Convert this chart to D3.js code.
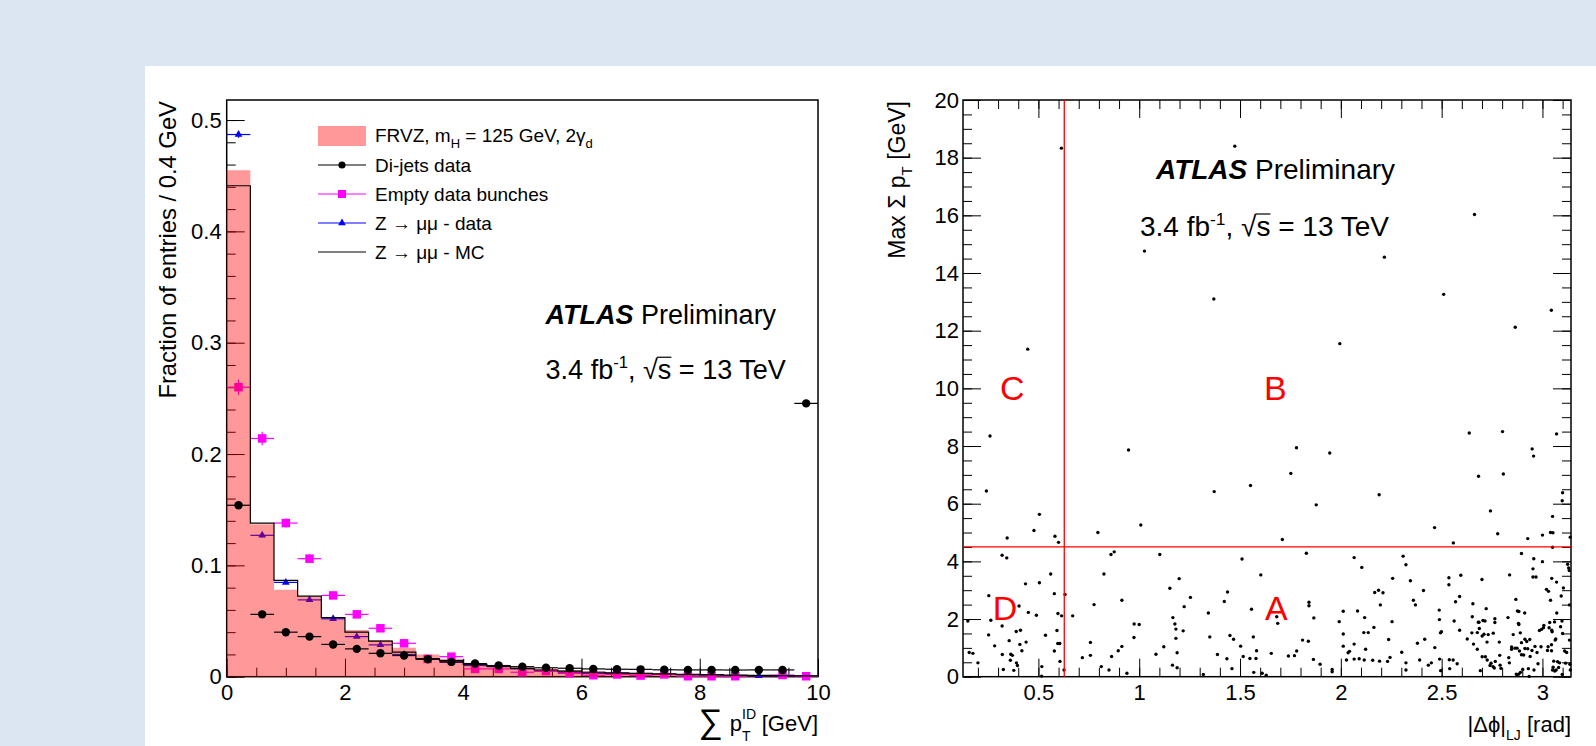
<!DOCTYPE html>
<html>
<head>
<meta charset="utf-8">
<script src="https://cdn.jsdelivr.net/npm/d3@7"></script>
<style>
  body { margin: 0; background: #dce6f2; }
  svg { display: block; font-family: "Liberation Sans", Arial, Helvetica, sans-serif; }
</style>
</head>
<body>
<svg id="draw"></svg>
<script>
// sum pT^ID histogram, 0.4 GeV bins (last bin carries the overflow)
const ptBins = [0.2, 0.6, 1.0, 1.4, 1.8, 2.2, 2.6, 3.0, 3.4, 3.8, 4.2, 4.6, 5.0,
                5.4, 5.8, 6.2, 6.6, 7.0, 7.4, 7.8, 8.2, 8.6, 9.0, 9.4, 9.8];
const binWidth = 0.4;

const frvz = [0.455, 0.137, 0.078, 0.072, 0.052, 0.042, 0.033, 0.026, 0.020, 0.016,
              0.0115, 0.010, 0.0085, 0.007, 0.006, 0.005, 0.004, 0.0035, 0.003, 0.0025,
              0.002, 0.0018, 0.0015, 0.0012, 0.001];
const zmumuMC = [0.441, 0.138, 0.0865, 0.0723, 0.053, 0.040, 0.032, 0.022, 0.016, 0.0145,
                 0.011, 0.0093, 0.0075, 0.006, 0.005, 0.004, 0.0035, 0.003, 0.0025, 0.002,
                 0.0018, 0.0015, 0.0012, 0.001, 0.0008];
const zmumuData = [0.487, 0.127, 0.0847, 0.069, 0.052, 0.036, 0.0286, 0.020, 0.016, 0.013,
                   0.010, 0.009, 0.007, 0.005, 0.004, 0.003, 0.003, 0.0025, 0.002, 0.0015,
                   0.0012, 0.001, 0.0008, 0.0006, 0.0005];
const zmumuErr = [0.003, 0.002, 0.0015, 0.0015, 0.001, 0.001, 0.001, 0.001, 0.001, 0.001,
                  0.0005, 0.0005, 0.0005, 0.0005, 0.0005, 0.0005, 0.0005, 0.0005, 0.0005, 0.0005,
                  0.0005, 0.0005, 0.0005, 0.0005, 0.0005];
const emptyBunches = [0.26, 0.214, 0.138, 0.106, 0.073, 0.056, 0.0435, 0.030, 0.016, 0.018,
                      0.007, 0.007, 0.004, 0.005, 0.003, 0.0013, 0.002, 0.001, 0.002, 0.0004,
                      0.0004, 0.0004, null, 0.0015, 0.0004];
const emptyErr = [0.007, 0.006, 0.004, 0.004, 0.003, 0.003, 0.002, 0.002, 0.0015, 0.0015,
                  0.001, 0.001, 0.001, 0.001, 0.001, 0.0005, 0.0005, 0.0005, 0.0005, 0.0005,
                  0.0005, 0.0005, 0, 0.0005, 0.0005];
const dijets = [0.154, 0.056, 0.040, 0.036, 0.029, 0.025, 0.021, 0.019, 0.0157, 0.0133,
                0.0118, 0.0100, 0.0090, 0.0080, 0.0076, 0.0070, 0.0067, 0.0066, 0.0062, 0.0061,
                0.0061, 0.0060, 0.0061, 0.0061, 0.2455];
const dijetsErr = [0.002, 0.001, 0.001, 0.001, 0.001, 0.001, 0.001, 0.001, 0.0008, 0.0008,
                   0.0005, 0.0005, 0.0005, 0.0005, 0.0005, 0.0005, 0.0005, 0.0005, 0.0005, 0.0005,
                   0.0005, 0.0005, 0.0005, 0.0005, 0.002];

const leftXTicks = [0, 2, 4, 6, 8, 10];
const leftYTicks = [0, 0.1, 0.2, 0.3, 0.4, 0.5];
const rightXTicks = [0.5, 1, 1.5, 2, 2.5, 3];
const rightYTicks = [0, 2, 4, 6, 8, 10, 12, 14, 16, 18, 20];

// ABCD cuts
const dphiCut = Math.PI / 5;
const sumPtCut = 4.5;

// events: [|dphi| (rad), max sum pT (GeV)]
const events = [
  [0.614,18.33],[1.474,18.4],[2.663,16.03],[1.026,14.76],[2.216,14.55],[1.37,13.1],[2.51,13.26],
  [3.044,12.71],[2.865,12.12],[0.447,11.36],[1.995,11.55],[0.26,8.35],[0.947,7.86],[1.78,7.94],
  [1.945,7.76],[2.637,8.45],[2.802,8.5],[3.07,8.42],[2.949,7.9],[2.956,7.65],[1.752,7.05],
  [2.683,6.95],[2.806,7.03],[0.242,6.44],[1.552,6.63],[1.372,6.42],[2.19,6.31],[1.878,5.96],
  [3.1,6.38],[3.098,6.1],[2.742,5.75],[0.505,5.63],[1.008,5.26],[3.05,5.56],[2.465,5.17],
  [0.478,5.07],[0.795,5.0],[2.778,4.96],[3.04,5.0],[3.052,4.99],[3.0,4.91],[0.345,4.81],
  [0.582,4.87],[0.6,4.66],[1.71,4.76],[2.558,4.64],[2.927,4.79],[3.138,4.84],[3.05,4.49],
  [0.32,4.21],[0.343,4.12],[0.86,4.24],[0.876,4.33],[1.102,4.24],[1.51,4.08],[0.436,3.22],
  [0.505,3.26],[0.561,3.56],[0.579,2.88],[0.632,2.85],[0.67,2.11],[0.825,3.56],[0.776,2.5],
  [0.914,2.65],[1.152,3.07],[1.198,3.4],[1.254,2.75],[1.223,2.43],[1.167,2.05],[1.177,1.83],
  [1.182,1.65],[1.182,1.33],[1.188,0.83],[1.218,1.59],[0.254,2.81],[0.264,1.96],[0.15,1.93],
  [0.157,0.84],[0.175,0.81],[0.2,0.48],[0.253,1.45],[0.283,1.07],[0.32,1.76],[0.321,0.77],
  [0.326,0.25],[0.355,1.25],[0.363,0.78],[0.371,0.74],[0.361,0.57],[0.378,0.22],[0.39,1.57],
  [0.391,0.48],[0.396,0.39],[0.404,2.45],[0.408,1.12],[0.411,1.61],[0.418,0.9],[0.439,1.2],
  [0.45,2.23],[0.49,2.13],[0.517,0.35],[0.516,0.02],[0.535,1.44],[0.579,0.89],[0.592,1.6],
  [0.597,2.19],[0.596,1.15],[0.606,1.15],[0.607,0.53],[0.615,2.11],[0.627,0.23],[0.718,0.66],
  [0.758,1.19],[0.758,0.74],[0.812,0.35],[0.85,0.23],[0.863,0.7],[0.896,0.9],[0.914,1.05],
  [0.939,0.12],[0.975,1.83],[1.0,1.81],[0.974,1.36],[1.083,0.78],[1.122,1.04],[1.165,0.4],
  [1.188,0.31],[1.318,0.08],[1.343,2.21],[1.35,1.38],[1.388,0.77],[1.422,2.61],[1.438,2.94],
  [1.435,0.62],[1.45,1.43],[1.46,0.28],[1.468,1.3],[1.503,1.06],[1.516,0.7],[1.549,0.63],
  [1.557,2.34],[1.566,1.38],[1.579,0.63],[1.582,0.9],[1.568,0.15],[1.603,3.53],[1.61,0.12],
  [1.63,0.05],[1.829,4.28],[1.655,0.81],[1.682,2.08],[1.687,1.85],[1.74,0.72],[1.77,0.73],
  [1.781,0.89],[1.81,1.27],[1.839,1.23],[1.842,2.46],[1.842,2.58],[1.866,2.04],[1.864,0.6],
  [1.897,0.43],[1.957,0.25],[1.957,0.17],[1.992,1.91],[2.012,1.48],[2.012,2.27],[2.012,1.06],
  [2.028,0.58],[2.036,0.83],[2.043,0.88],[2.066,4.13],[2.066,1.13],[2.066,0.61],[2.083,2.28],
  [2.091,0.62],[2.104,3.79],[2.114,1.53],[2.118,2.05],[2.123,0.95],[2.136,1.53],[2.116,0.58],
  [2.164,1.71],[2.158,0.57],[2.168,2.92],[2.187,3.0],[2.209,2.91],[2.196,2.49],[2.192,0.54],
  [2.232,0.53],[2.237,1.29],[2.244,0.67],[2.254,1.91],[2.257,3.41],[2.302,0.85],[2.309,4.18],
  [2.323,3.88],[2.323,0.48],[2.323,0.23],[2.345,3.33],[2.36,2.65],[2.37,2.49],[2.38,1.16],
  [2.391,0.58],[2.41,2.99],[2.416,1.3],[2.434,0.4],[2.449,0.48],[2.466,1.01],[2.488,2.31],
  [2.489,1.98],[2.494,1.52],[2.499,1.56],[2.49,0.61],[2.495,0.21],[2.536,3.43],[2.536,3.19],
  [2.538,0.59],[2.54,0.28],[2.557,0.58],[2.562,1.93],[2.569,2.6],[2.577,0.45],[2.589,2.78],
  [2.589,1.61],[2.595,3.52],[2.627,1.31],[2.652,2.08],[2.65,1.52],[2.655,2.53],[2.658,1.13],
  [2.677,0.95],[2.677,1.53],[2.682,1.89],[2.685,1.89],[2.687,1.67],[2.692,0.21],[2.7,3.37],
  [2.701,1.41],[2.701,0.69],[2.705,1.95],[2.71,1.47],[2.715,1.93],[2.717,0.69],[2.721,2.36],
  [2.725,1.2],[2.726,0.58],[2.731,1.46],[2.74,0.39],[2.745,0.47],[2.755,0.35],[2.756,1.51],
  [2.761,0.3],[2.764,2.01],[2.764,1.88],[2.766,0.53],[2.786,1.2],[2.788,0.74],[2.79,0.4],
  [2.794,0.29],[2.829,2.05],[2.833,0.66],[2.836,0.48],[2.837,3.53],[2.847,1.03],[2.847,0.95],
  [2.855,1.46],[2.864,0.99],[2.868,2.68],[2.87,0.09],[2.874,0.99],[2.874,0.07],[2.876,2.28],
  [2.881,1.85],[2.883,2.26],[2.883,1.81],[2.883,0.09],[2.886,0.89],[2.89,1.52],[2.891,0.15],
  [2.896,4.27],[2.896,1.18],[2.896,0.76],[2.902,0.25],[2.907,0.75],[2.912,2.21],[2.913,1.3],
  [2.913,0.98],[2.922,1.22],[2.927,0.97],[2.93,0.28],[2.934,0.01],[2.937,1.29],[2.939,0.7],
  [2.948,0.91],[2.953,3.74],[2.953,3.46],[2.957,4.09],[2.958,0.23],[2.963,1.05],[2.968,3.46],
  [2.973,0.84],[2.978,0.45],[2.985,1.6],[2.993,1.04],[2.995,1.64],[3.0,3.99],[3.005,1.7],
  [3.007,1.78],[3.02,3.03],[3.025,0.91],[3.028,1.04],[3.03,2.96],[3.033,1.7],[3.036,1.88],
  [3.04,2.65],[3.045,1.11],[3.045,0.9],[3.046,3.41],[3.046,1.61],[3.048,1.56],[3.05,0.23],
  [3.053,0.33],[3.056,0.54],[3.06,1.9],[3.061,0.2],[3.063,1.27],[3.066,1.31],[3.068,0.23],
  [3.07,3.28],[3.071,2.21],[3.075,0.52],[3.08,0.32],[3.085,0.48],[3.09,1.73],[3.093,2.8],
  [3.097,1.93],[3.098,0.08],[3.1,1.5],[3.104,3.08],[3.11,0.89],[3.115,0.47],[3.12,0.84],
  [3.125,3.9],[3.13,3.77],[3.133,3.68],[3.134,2.49],[3.134,1.27],[3.136,0.43],[3.138,0.23]
];

const width = 1596;
const height = 746;
const tickFont = 22;

var svg = d3.select("#draw")
  .attr("width", width)
  .attr("height", height);

svg.append("rect").attr("width", width).attr("height", height).attr("fill", "#dce6f2");
svg.append("rect").attr("x", 145).attr("y", 66)
  .attr("width", width - 145).attr("height", height - 66).attr("fill", "#fff");

// draws a set of inward ticks with d3 axis, labels optional
function ticks(g, axisFn, scale, values, size, transform, fmt, pad) {
  var ax = axisFn(scale).tickValues(values)
    .tickSizeInner(-size).tickSizeOuter(0).tickPadding(pad || 5)
    .tickFormat(fmt || "");
  var a = g.append("g").attr("transform", transform).call(ax);
  a.select(".domain").remove();
  a.attr("font-family", null).attr("font-size", tickFont);
  a.selectAll("line").attr("stroke", "#000").attr("stroke-width", 1);
  a.selectAll("text").attr("fill", "#000");
  return a;
}

function frame(g, x, y) {
  g.append("rect")
    .attr("x", x.range()[0]).attr("y", y.range()[1])
    .attr("width", x.range()[1] - x.range()[0])
    .attr("height", y.range()[0] - y.range()[1])
    .attr("fill", "none").attr("stroke", "#000").attr("stroke-width", 1.5);
}

function atlasLabel(g, x, y, size) {
  var t = g.append("text").attr("x", x).attr("y", y).attr("font-size", size);
  t.append("tspan").attr("font-weight", "bold").attr("font-style", "italic").text("ATLAS");
  t.append("tspan").text(" Preliminary");

  var l = g.append("text").attr("x", x - (size > 27 ? 16 : 0)).attr("y", y + size * 2.05)
    .attr("font-size", size);
  l.append("tspan").text("3.4 fb");
  l.append("tspan").attr("font-size", size * 0.62).attr("dy", -size * 0.42).text("-1");
  l.append("tspan").attr("dy", size * 0.42).text(", \u221As = 13 TeV");
  // bar over the s of the square root
  var node = l.node();
  var a = node.getEndPositionOfChar(10);
  var b = node.getEndPositionOfChar(11);
  g.append("line")
    .attr("x1", a.x - 1).attr("x2", b.x)
    .attr("y1", a.y - size * 0.8).attr("y2", a.y - size * 0.8)
    .attr("stroke", "#000").attr("stroke-width", 1.2);
}

leftPlot();
rightPlot();

function leftPlot() {
  var g = svg.append("g");
  var x = d3.scaleLinear().domain([0, 10]).range([226.7, 818]);
  var y = d3.scaleLinear().domain([0, 0.518]).range([676.7, 100]);

  ticks(g, d3.axisLeft, y, d3.range(0, 0.519, 0.02), 9, "translate(" + x.range()[0] + ",0)");
  ticks(g, d3.axisLeft, y, leftYTicks, 18, "translate(" + x.range()[0] + ",0)",
    d => d === 0 ? "0" : d.toFixed(1), 5);
  ticks(g, d3.axisBottom, x, d3.range(0, 10.01, 0.5), 9, "translate(0," + y.range()[0] + ")");
  ticks(g, d3.axisBottom, x, leftXTicks, 18, "translate(0," + y.range()[0] + ")",
    d => d, 8);
  frame(g, x, y);

  function points(vals, errs, color, shape, size) {
    var pts = ptBins.map((c, i) => ({ c: c, v: vals[i], e: errs[i] }))
      .filter(d => d.v != null);
    var p = g.append("g");
    p.selectAll(null).data(pts).enter().append("line")
      .attr("x1", d => x(d.c - binWidth / 2)).attr("x2", d => x(d.c + binWidth / 2))
      .attr("y1", d => y(d.v)).attr("y2", d => y(d.v))
      .attr("stroke", color).attr("stroke-width", 1.2);
    p.selectAll(null).data(pts).enter().append("line")
      .attr("x1", d => x(d.c)).attr("x2", d => x(d.c))
      .attr("y1", d => y(d.v - d.e)).attr("y2", d => y(d.v + d.e))
      .attr("stroke", color).attr("stroke-width", 1.2);
    p.selectAll(null).data(pts).enter().append("path")
      .attr("d", d3.symbol().type(shape).size(size))
      .attr("transform", d => "translate(" + x(d.c) + "," + y(d.v) + ")")
      .attr("fill", color);
  }

  function stepData(vals) {
    var s = vals.map((v, i) => ({ x: ptBins[i] - binWidth / 2, v: v }));
    s.push({ x: ptBins[ptBins.length - 1] + binWidth / 2, v: vals[vals.length - 1] });
    return s;
  }

  points(zmumuData, zmumuErr, "#0000ff", d3.symbolTriangle, 26);
  points(emptyBunches, emptyErr, "#ff00ff", d3.symbolSquare, 72);

  // signal shape, semi transparent red drawn over the data below it
  g.append("path")
    .datum(stepData(frvz))
    .attr("d", d3.area().curve(d3.curveStepAfter)
      .x(d => x(d.x)).y0(y(0)).y1(d => y(d.v)))
    .attr("fill", "rgba(255,0,0,0.4)");

  g.append("path")
    .datum(stepData(zmumuMC))
    .attr("d", d3.line().curve(d3.curveStepAfter).x(d => x(d.x)).y(d => y(d.v)))
    .attr("fill", "none").attr("stroke", "#000").attr("stroke-width", 1.2);

  points(dijets, dijetsErr, "#000", d3.symbolCircle, 56);

  // legend
  var lg = g.append("g").attr("font-size", 19);
  var lx0 = 318, lx1 = 366, tx = 375;
  lg.append("rect").attr("x", lx0).attr("y", 126).attr("width", lx1 - lx0).attr("height", 20)
    .attr("fill", "#ff9999");
  var t0 = lg.append("text").attr("x", tx).attr("y", 142);
  t0.append("tspan").text("FRVZ, m");
  t0.append("tspan").attr("font-size", 13).attr("dy", 6).text("H");
  t0.append("tspan").attr("dy", -6).text(" = 125 GeV, 2\u03B3");
  t0.append("tspan").attr("font-size", 13).attr("dy", 6).text("d");

  var entries = [
    { y: 165, color: "#000", shape: d3.symbolCircle, size: 40, label: "Di-jets data" },
    { y: 194, color: "#ff00ff", shape: d3.symbolSquare, size: 64, label: "Empty data bunches" },
    { y: 223, color: "#0000ff", shape: d3.symbolTriangle, size: 26, label: "Z \u2192 \u03BC\u03BC - data" },
    { y: 252, color: "#000", shape: null, size: 0, label: "Z \u2192 \u03BC\u03BC - MC" }
  ];
  entries.forEach(function(e) {
    lg.append("line").attr("x1", lx0).attr("x2", lx1).attr("y1", e.y).attr("y2", e.y)
      .attr("stroke", e.color).attr("stroke-width", 1.2);
    if (e.shape) {
      lg.append("path").attr("d", d3.symbol().type(e.shape).size(e.size))
        .attr("transform", "translate(" + (lx0 + lx1) / 2 + "," + e.y + ")")
        .attr("fill", e.color);
    }
    lg.append("text").attr("x", tx).attr("y", e.y + 6.5).text(e.label);
  });

  atlasLabel(g, 545.6, 323.5, 27);

  // axis titles
  g.append("text")
    .attr("transform", "translate(176,101) rotate(-90)")
    .attr("text-anchor", "end").attr("font-size", 23.8)
    .text("Fraction of entries / 0.4 GeV");

  var xt = g.append("text").attr("x", 818).attr("y", 731)
    .attr("text-anchor", "end").attr("font-size", 22);
  xt.append("tspan").attr("font-size", 34).attr("dy", 2).text("\u2211");
  xt.append("tspan").attr("dx", 7).attr("dy", -2).text("p");
  xt.append("tspan").attr("font-size", 14).attr("dy", -12).text("ID");
  xt.append("tspan").attr("font-size", 14).attr("dx", -14).attr("dy", 22).text("T");
  xt.append("tspan").attr("dx", 5).attr("dy", -10).text(" [GeV]");
}

function rightPlot() {
  var g = svg.append("g");
  var x = d3.scaleLinear().domain([0.126, Math.PI]).range([963, 1571]);
  var y = d3.scaleLinear().domain([0, 20]).range([676.7, 100]);
  var xMinor = d3.range(0.2, 3.15, 0.1);
  var yMinor = d3.range(0, 20.01, 0.5);

  ticks(g, d3.axisBottom, x, xMinor, 9, "translate(0," + y.range()[0] + ")");
  ticks(g, d3.axisBottom, x, rightXTicks, 18, "translate(0," + y.range()[0] + ")", d => d, 8);
  ticks(g, d3.axisTop, x, xMinor, 9, "translate(0," + y.range()[1] + ")");
  ticks(g, d3.axisTop, x, rightXTicks, 18, "translate(0," + y.range()[1] + ")");
  ticks(g, d3.axisLeft, y, yMinor, 9, "translate(" + x.range()[0] + ",0)");
  ticks(g, d3.axisLeft, y, rightYTicks, 18, "translate(" + x.range()[0] + ",0)", d => d, 4);
  ticks(g, d3.axisRight, y, yMinor, 9, "translate(" + x.range()[1] + ",0)");
  ticks(g, d3.axisRight, y, rightYTicks, 18, "translate(" + x.range()[1] + ",0)");
  frame(g, x, y);

  g.append("g").selectAll("circle")
    .data(events)
    .enter().append("circle")
    .attr("cx", d => x(d[0]))
    .attr("cy", d => y(d[1]))
    .attr("r", 1.7)
    .attr("fill", "#000");

  g.append("line")
    .attr("x1", x(dphiCut)).attr("x2", x(dphiCut))
    .attr("y1", y(0)).attr("y2", y(20))
    .attr("stroke", "#ff0000").attr("stroke-width", 1.3);
  g.append("line")
    .attr("x1", x.range()[0]).attr("x2", x.range()[1])
    .attr("y1", y(sumPtCut)).attr("y2", y(sumPtCut))
    .attr("stroke", "#ff0000").attr("stroke-width", 1.3);

  var regions = [["C", 0.37, 10.0], ["B", 1.675, 10.0], ["D", 0.335, 2.38], ["A", 1.68, 2.38]];
  g.selectAll(null).data(regions).enter().append("text")
    .attr("x", d => x(d[1])).attr("y", d => y(d[2]) + 12)
    .attr("text-anchor", "middle").attr("font-size", 34).attr("fill", "#ff0000")
    .text(d => d[0]);

  atlasLabel(g, 1156, 179, 28);

  var yt = g.append("text")
    .attr("transform", "translate(905,101) rotate(-90)")
    .attr("text-anchor", "end").attr("font-size", 23);
  yt.append("tspan").text("Max \u03A3 p");
  yt.append("tspan").attr("font-size", 15).attr("dy", 7).text("T");
  yt.append("tspan").attr("dy", -7).text(" [GeV]");

  var xt = g.append("text").attr("x", 1571).attr("y", 732)
    .attr("text-anchor", "end").attr("font-size", 22);
  xt.append("tspan").text("|\u0394\u03D5|");
  xt.append("tspan").attr("font-size", 14).attr("dy", 8).text("LJ");
  xt.append("tspan").attr("dy", -8).text(" [rad]");
}
</script>
</body>
</html>
